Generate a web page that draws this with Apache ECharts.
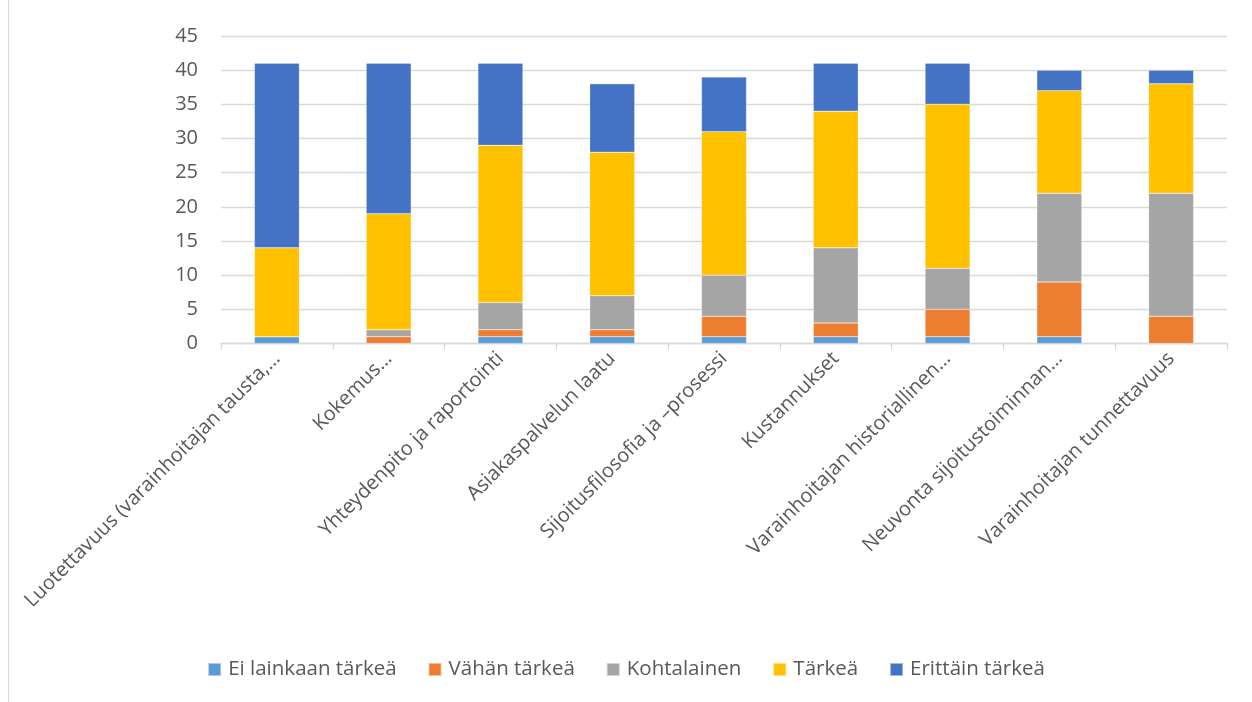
<!DOCTYPE html>
<html>
<head>
<meta charset="utf-8">
<script src="https://cdn.jsdelivr.net/npm/echarts@6/dist/echarts.min.js"></script>
<style>
html,body{margin:0;padding:0;background:#fff;}
#c{width:1252px;height:702px;}
</style>
</head>
<body>
<div id="c"></div>
<script>
const categories = [
  "Luotettavuus (varainhoitajan tausta,…",
  "Kokemus…",
  "Yhteydenpito ja raportointi",
  "Asiakaspalvelun laatu",
  "Sijoitusfilosofia ja –prosessi",
  "Kustannukset",
  "Varainhoitajan historiallinen…",
  "Neuvonta sijoitustoiminnan…",
  "Varainhoitajan tunnettavuus"
];
const seriesNames = ["Ei lainkaan tärkeä", "Vähän tärkeä", "Kohtalainen", "Tärkeä", "Erittäin tärkeä"];
const eiLainkaan = [1, 0, 1, 1, 1, 1, 1, 1, 0];
const vahan      = [0, 1, 1, 1, 3, 2, 4, 8, 4];
const kohtalainen= [0, 1, 4, 5, 6, 11, 6, 13, 18];
const tarkea     = [13, 17, 23, 21, 21, 20, 24, 15, 16];
const erittain   = [27, 22, 12, 10, 8, 7, 6, 3, 2];
const yTicks = [0, 5, 10, 15, 20, 25, 30, 35, 40, 45];
const colors = ["#5B9BD5", "#ED7D31", "#A5A5A5", "#FFC000", "#4472C4"];

const values = [eiLainkaan, vahan, kohtalainen, tarkea, erittain];
const font = '"Open Sans", "Liberation Sans", sans-serif';
const chart = echarts.init(document.getElementById('c'));
chart.setOption({
  animation: false,
  textStyle: { fontFamily: font },
  grid: { left: 221, right: 25, top: 36, bottom: 358.5, containLabel: false },
  legend: {
    bottom: 17, left: 'center',
    itemWidth: 13, itemHeight: 13, itemGap: 31,
    icon: 'rect',
    textStyle: { color: '#595959', fontSize: 20.5, fontFamily: font, padding: [0,0,0,2] },
    data: seriesNames
  },
  xAxis: {
    type: 'category',
    data: categories,
    axisLine: { lineStyle: { color: '#d9d9d9', width: 1.3 } },
    axisTick: { show: true, length: 6, lineStyle: { color: '#d9d9d9', width: 1.3 } },
    axisLabel: { rotate: 45, color: '#595959', fontSize: 20, interval: 0, margin: 12, fontFamily: font }
  },
  yAxis: {
    type: 'value', min: yTicks[0], max: yTicks[yTicks.length-1], interval: 5,
    axisLine: { show: false }, axisTick: { show: false },
    splitLine: { lineStyle: { color: '#d9d9d9', width: 1.3 } },
    axisLabel: { color: '#595959', fontSize: 20, margin: 23, fontFamily: font }
  },
  series: seriesNames.map((n, i) => ({
    name: n, type: 'bar', stack: 'total', data: values[i],
    barWidth: 45,
    itemStyle: { color: colors[i], borderColor: 'rgba(255,255,255,0.5)', borderWidth: 0.5 }
  })),
  graphic: [{ type: 'line', shape: { x1: 8.5, y1: 0, x2: 8.5, y2: 702 }, style: { stroke: '#d9d9d9', lineWidth: 1 } }]
});
</script>
</body>
</html>
